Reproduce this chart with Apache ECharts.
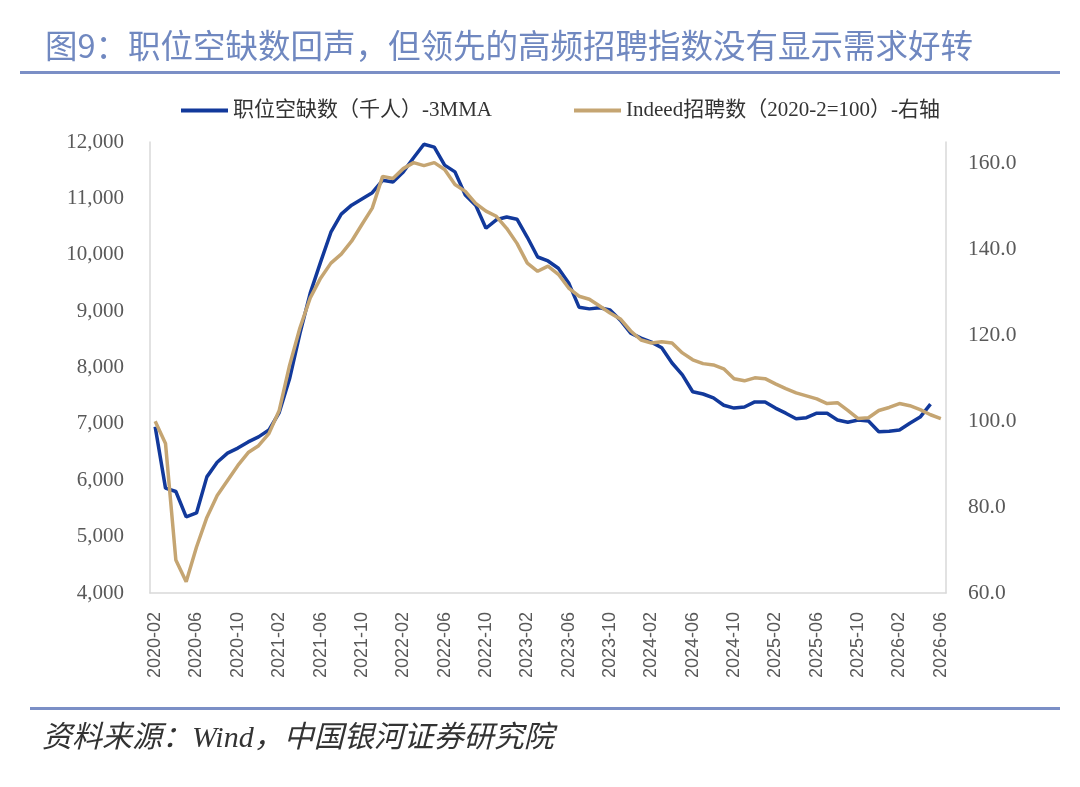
<!DOCTYPE html>
<html>
<head>
<meta charset="utf-8">
<script src="https://cdn.jsdelivr.net/npm/echarts@6/dist/echarts.min.js"></script>
<style>
  html, body { margin: 0; padding: 0; background: #fff; }
  #main { width: 1080px; height: 787px; }
</style>
</head>
<body>
<div id="main"></div>
<script>
// months 2020-02 .. 2026-06
const months = [];
for (let y = 2020; y <= 2026; y++) {
  for (let m = 1; m <= 12; m++) {
    if (y === 2020 && m < 2) continue;
    if (y === 2026 && m > 6) break;
    months.push(y + '-' + String(m).padStart(2, '0'));
  }
}

// 职位空缺数（千人）-3MMA, left axis
const vacancies = [
  6950, 5860, 5800, 5350, 5420, 6060, 6320, 6480, 6570, 6680, 6770, 6890,
  7200, 7800, 8600, 9320, 9870, 10400, 10720, 10880, 10990, 11100, 11320, 11290,
  11470, 11720, 11960, 11910, 11590, 11470, 11060, 10880, 10470, 10620, 10670, 10630,
  10310, 9960, 9890, 9760, 9500, 9070, 9040, 9060, 9020, 8840, 8610, 8520,
  8450, 8350, 8080, 7870, 7570, 7530, 7460, 7330, 7280, 7300, 7390, 7390,
  7280, 7190, 7090, 7110, 7190, 7190, 7070, 7030, 7070, 7050, 6860, 6870,
  6890, 7010, 7120, 7350, null
];

// Indeed招聘数（2020-2=100）, right axis
const indeed = [
  100.0, 94.8, 67.7, 62.6, 70.7, 77.6, 82.7, 86.2, 89.7, 92.7, 94.3, 97.1,
  102.5, 113.0, 121.7, 128.7, 133.3, 136.8, 138.9, 141.9, 145.8, 149.6, 157.0, 156.5,
  158.8, 160.2, 159.5, 160.2, 158.6, 155.1, 153.5, 150.7, 148.9, 147.7, 144.9, 141.4,
  136.8, 134.9, 136.1, 134.2, 131.0, 129.1, 128.4, 126.8, 125.2, 123.8, 121.0, 118.9,
  118.2, 118.5, 118.2, 115.9, 114.3, 113.4, 113.1, 112.2, 109.9, 109.4, 110.1, 109.9,
  108.7, 107.6, 106.6, 105.9, 105.2, 104.1, 104.3, 102.5, 100.6, 100.8, 102.5, 103.2,
  104.1, 103.6, 102.7, 101.5, 100.6
];

const seriesNames = ['职位空缺数（千人）-3MMA', 'Indeed招聘数（2020-2=100）-右轴'];

const frameColor = '#7b8fc6';
const axisColor = '#d9d9d9';

let chart = echarts.init(document.getElementById('main'));
let option = {
  backgroundColor: '#fff',
  animation: false,
  title: {
    text: '图9：职位空缺数回声，但领先的高频招聘指数没有显示需求好转',
    left: 40,
    top: 24,
    textStyle: {
      fontFamily: 'Noto Sans CJK SC',
      fontWeight: 'normal',
      fontSize: 32.5,
      color: '#7088c0'
    }
  },
  graphic: [
    { type: 'rect', shape: { x: 20, y: 71, width: 1040, height: 3 }, style: { fill: frameColor } },
    { type: 'rect', shape: { x: 30, y: 707, width: 1030, height: 3 }, style: { fill: frameColor } },
    {
      type: 'text', left: 42, top: 724,
      style: {
        text: '资料来源：Wind，中国银河证券研究院',
        font: 'italic 30px "Liberation Serif", "Noto Sans CJK SC"',
        fill: '#333'
      }
    }
  ],
  legend: {
    top: 95,
    left: 176,
    itemGap: 82,
    itemWidth: 47,
    itemHeight: 4,
    icon: 'rect',
    textStyle: {
      fontFamily: '"Liberation Serif", "Noto Sans CJK SC"',
      fontSize: 21,
      color: '#333'
    },
    data: seriesNames
  },
  grid: {
    left: 150,
    right: 134,
    top: 142,
    bottom: 194
  },
  xAxis: {
    type: 'category',
    data: months,
    boundaryGap: true,
    axisLine: { show: true, lineStyle: { color: axisColor, width: 1.5 } },
    axisTick: { show: false },
    axisLabel: {
      interval: 3,
      rotate: 90,
      margin: 19,
      fontFamily: '"Liberation Sans", Arial',
      fontSize: 18,
      color: '#595959'
    },
    splitLine: { show: false }
  },
  yAxis: [
    {
      type: 'value',
      min: 4000,
      max: 12000,
      interval: 1000,
      axisLine: { show: true, lineStyle: { color: axisColor, width: 1.5 } },
      axisTick: { show: false },
      splitLine: { show: false },
      axisLabel: {
        margin: 26,
        fontFamily: '"Liberation Serif"',
        fontSize: 21,
        color: '#595959',
        formatter: v => v.toLocaleString('en-US')
      }
    },
    {
      type: 'value',
      min: 60,
      max: 165,
      interval: 20,
      position: 'right',
      axisLine: { show: true, lineStyle: { color: axisColor, width: 1.5 } },
      axisTick: { show: false },
      splitLine: { show: false },
      axisLabel: {
        margin: 22,
        showMaxLabel: false,
        fontFamily: '"Liberation Serif"',
        fontSize: 21.5,
        color: '#595959',
        formatter: v => (v % 20 === 0 ? v.toFixed(1) : '')
      }
    }
  ],
  series: [
    {
      name: seriesNames[0],
      type: 'line',
      yAxisIndex: 0,
      data: vacancies,
      symbol: 'none',
      lineStyle: { color: '#12399b', width: 3.5 },
      itemStyle: { color: '#12399b' }
    },
    {
      name: seriesNames[1],
      type: 'line',
      yAxisIndex: 1,
      data: indeed,
      symbol: 'none',
      lineStyle: { color: '#c5a572', width: 3.5 },
      itemStyle: { color: '#c5a572' }
    }
  ]
};

option && chart.setOption(option);
</script>
</body>
</html>
